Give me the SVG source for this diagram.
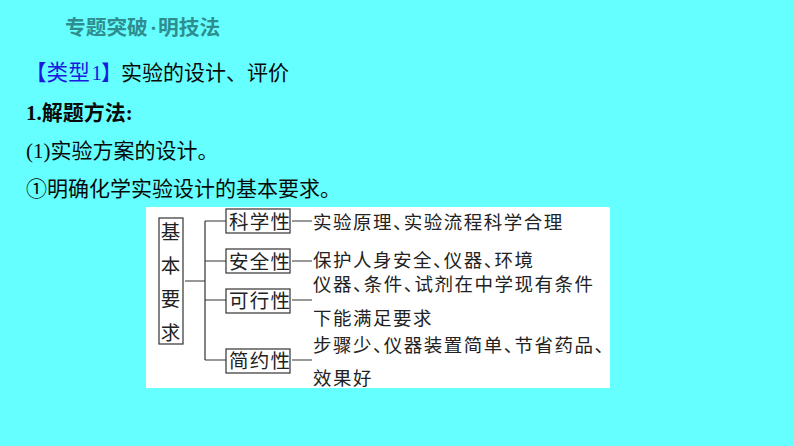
<svg xmlns="http://www.w3.org/2000/svg" width="794" height="446" viewBox="0 0 794 446">
<style>
text{font-family:"Noto Sans CJK SC","Liberation Sans",sans-serif;fill:#0a0a0a}
.m{font-size:21px}
.b{fill:#1a1ae0}
.d{font-size:18.5px;fill:#222;letter-spacing:1.5px;font-feature-settings:"halt"}
.n{font-size:19.5px;fill:#222;letter-spacing:1.2px}
.box{fill:#fff;stroke:#333;stroke-width:1.2}
.c{fill:none;stroke:#333;stroke-width:1.2}
.ser{font-family:"Liberation Serif",serif}
.h{font-size:20.7px;font-weight:700;fill:#2e8e8e}
</style>
<rect width="794" height="446" fill="#66ffff"/>
<text x="65" y="35" class="h">专题突破</text><text x="150" y="35" class="h ser">·</text><text x="158" y="35" class="h">明技法</text>
<text x="25" y="80" class="m b" style="font-size:21.6px">【类型</text><text x="91.500" y="80" class="m ser b">1</text><text x="101" y="80" class="m b">】</text>
<text x="121" y="80" class="m">实验的设计、评价</text>
<text x="26" y="120" class="m" font-weight="700"><tspan class="ser">1.</tspan>解题方法<tspan class="ser">:</tspan></text>
<text x="26" y="158" class="m"><tspan class="ser">(1)</tspan>实验方案的设计。</text>
<text x="26" y="196" class="m">①明确化学实验设计的基本要求。</text>
<rect x="146" y="207" width="464" height="181" fill="#fff"/>
<g id="connectors">
<path class="c" d="M185 281H205M205 221V360M205 221H226M205 261H226M205 300H226M205 360H226"/>
<path class="c" d="M292 221H312M292 261H312M292 300H312M292 360H312"/>
</g>
<g id="root"><rect class="box" x="159" y="218" width="24" height="126"/>
<text class="n" x="171" y="239" text-anchor="middle">基</text><text class="n" x="171" y="273" text-anchor="middle">本</text><text class="n" x="171" y="306" text-anchor="middle">要</text><text class="n" x="171" y="340" text-anchor="middle">求</text></g>
<g id="n1"><rect class="box" x="226" y="209" width="64" height="24"/><text class="n" x="229" y="229">科学性</text></g>
<g id="n2"><rect class="box" x="226" y="249" width="64" height="24"/><text class="n" x="229" y="269">安全性</text></g>
<g id="n3"><rect class="box" x="226" y="289" width="64" height="24"/><text class="n" x="229" y="308">可行性</text></g>
<g id="n4"><rect class="box" x="226" y="349" width="64" height="24"/><text class="n" x="229" y="368">简约性</text></g>
<g id="details">
<text class="d" x="313" y="229">实验原理、实验流程科学合理</text>
<text class="d" x="313" y="267">保护人身安全、仪器、环境</text>
<text class="d" x="313" y="291">仪器、条件、试剂在中学现有条件</text>
<text class="d" x="313" y="325">下能满足要求</text>
<text class="d" x="313" y="352">步骤少、仪器装置简单、节省药品、</text>
<text class="d" x="313" y="385">效果好</text>
</g>
</svg>
